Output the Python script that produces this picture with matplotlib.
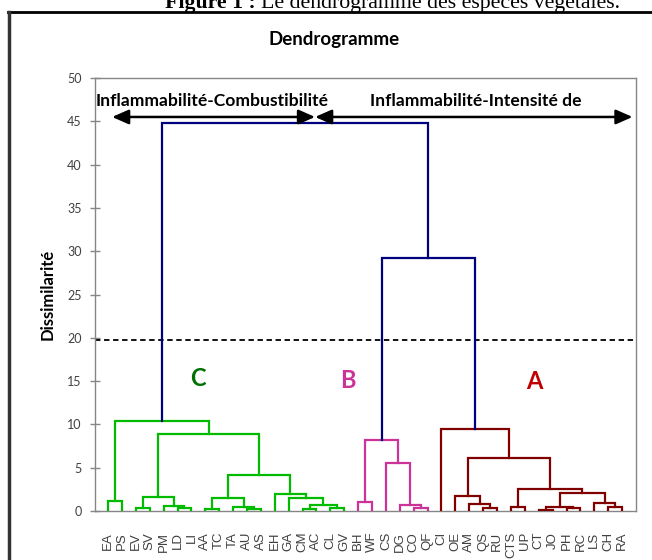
import matplotlib
matplotlib.use("Agg")
import matplotlib.pyplot as plt
from matplotlib.lines import Line2D
from matplotlib.patches import FancyArrowPatch

# leaf order along the x axis
leaves = ["EA", "PS", "EV", "SV", "PM", "LD", "LI", "AA", "TC", "TA", "AU", "AS",
          "EH", "GA", "CM", "AC", "CL", "GV",
          "BH", "WF", "CS", "DG", "CO", "QF",
          "CI", "OE", "AM", "QS", "RU", "CTS", "UP", "CT", "JO", "PH", "RC", "LS", "CH", "RA"]
leaf_group = ["C"] * 18 + ["B"] * 6 + ["A"] * 14

# merges: node name, left child, right child, dissimilarity
node_name = ["m1", "m2", "m3", "m4", "m5", "m6", "m7", "m8", "m9", "m10", "m11", "m12",
             "m13", "m14", "m15", "m16", "m17",
             "p1", "p2", "p3", "p4", "p5",
             "r1", "r2", "r3", "r4", "r5", "r6", "r7", "r8", "r9", "r10", "r11", "r12", "r13",
             "b1", "b2"]
node_left = ["EA", "EV", "LD", "PM", "m2", "AA", "AU", "TA", "m6", "CM", "CL", "m10",
             "GA", "EH", "m9", "m5", "m1",
             "BH", "CO", "DG", "CS", "p1",
             "QS", "AM", "OE", "CTS", "CT", "PH", "r5", "CH", "LS", "r7", "r4", "r3", "CI",
             "p5", "m17"]
node_right = ["PS", "SV", "LI", "m3", "m4", "TC", "AS", "m7", "m8", "AC", "GV", "m11",
              "m12", "m13", "m14", "m15", "m16",
              "WF", "QF", "p2", "p3", "p4",
              "RU", "r1", "r2", "UP", "JO", "RC", "r6", "RA", "r8", "r9", "r10", "r11", "r12",
              "r13", "b1"]
node_height = [1.2, 0.3, 0.4, 0.6, 1.65, 0.25, 0.2, 0.45, 1.45, 0.2, 0.4, 0.75,
               1.45, 1.95, 4.1, 8.9, 10.4,
               1.0, 0.3, 0.75, 5.6, 8.2,
               0.3, 0.8, 1.75, 0.5, 0.15, 0.3, 0.5, 0.5, 0.95, 2.05, 2.55, 6.1, 9.45,
               29.2, 44.8]

cut_level = 19.7
group_colors = {"C": "#00BB00", "B": "#CC3399", "A": "#800000", "mix": "#00007F"}
label_colors = {"C": "#007000", "B": "#CC3399", "A": "#C00000"}

fig = plt.figure(figsize=(6.52, 5.6), dpi=100)
ax = fig.add_axes([95 / 652, 1 - 511 / 560, 541 / 652, 433 / 560])

xpos = {name: i for i, name in enumerate(leaves)}
ypos = {name: 0.0 for name in leaves}
grp = {name: g for name, g in zip(leaves, leaf_group)}

for name, l, r, h in zip(node_name, node_left, node_right, node_height):
    g = grp[l] if grp[l] == grp[r] else "mix"
    ax.plot([xpos[l], xpos[l], xpos[r], xpos[r]], [ypos[l], h, h, ypos[r]],
            color=group_colors[g], lw=1.6, solid_joinstyle="miter", zorder=3)
    xpos[name] = (xpos[l] + xpos[r]) / 2
    ypos[name] = h
    grp[name] = g

ax.axhline(cut_level, color="black", lw=1.3, ls=(0, (3, 2)), zorder=2)

ax.set_xlim(-0.94, 38.0)
ax.set_ylim(0, 50)
ax.set_yticks(range(0, 51, 5))
ax.set_xticks(range(len(leaves)))
ax.set_xticklabels(leaves, rotation=90, fontsize=9.5, color="#404040",
                   family="Liberation Sans", va="top")
ax.tick_params(axis="x", length=0, pad=15)
ax.tick_params(axis="y", direction="inout", length=7, width=1, color="#868686",
               labelsize=9, labelcolor="#404040", pad=6)
for lab in ax.get_yticklabels():
    lab.set_family("Lato")
for sp in ax.spines.values():
    sp.set_color("#868686")
    sp.set_linewidth(1)

ax.set_ylabel("Dissimilarité", fontsize=12, fontweight="bold", family="Lato", labelpad=8)

# arrows with the two themes
for x0, x1 in [(0.29, 14.9), (14.9, 37.75)]:
    ax.add_patch(FancyArrowPatch((x0, 45.5), (x1, 45.5), arrowstyle="<|-|>,head_length=0.5,head_width=0.22",
                                 mutation_scale=20, color="black", lw=1.8, shrinkA=0, shrinkB=0,
                                 zorder=4, clip_on=False))
ax.text(7.48, 47.3, "Inflammabilité-Combustibilité", ha="center", va="center",
        fontsize=12.6, fontweight="bold", family="Lato")
ax.text(26.5, 47.3, "Inflammabilité-Intensité de", ha="center", va="center",
        fontsize=12.6, fontweight="bold", family="Lato")

# cluster letters
ax.text(6.45, 15.3, "C", color=label_colors["C"], fontsize=17, fontweight="bold", family="Lato",
        ha="center", va="center")
ax.text(17.25, 15.1, "B", color=label_colors["B"], fontsize=17, fontweight="bold", family="Lato",
        ha="center", va="center")
ax.text(30.7, 14.9, "A", color=label_colors["A"], fontsize=17, fontweight="bold", family="Lato",
        ha="center", va="center")

fig.text(334 / 652, 1 - 40 / 560, "Dendrogramme", ha="center", va="center",
         fontsize=13.5, fontweight="bold", family="Lato")

# outer frame of the figure box
fig.add_artist(Line2D([8 / 652, 1], [1 - 12 / 560] * 2, color="black", lw=2))
fig.add_artist(Line2D([8.5 / 652] * 2, [0, 1 - 12 / 560], color="#333333", lw=2.5))

# caption, cut at the top like in the source
fig.canvas.draw()
r = fig.canvas.get_renderer()
t1 = fig.text(165 / 652, 1 - 8 / 560, "Figure 1 :", ha="left", va="baseline",
              fontsize=15.7, fontweight="bold", family="Liberation Serif")
bb = t1.get_window_extent(renderer=r)
fig.text(bb.x1 / fig.bbox.width + 5 / 652, 1 - 8 / 560, "Le dendrogramme des espèces végétales.",
         ha="left", va="baseline", fontsize=15.7, family="Liberation Serif")

fig.savefig("out.png", dpi=100)
